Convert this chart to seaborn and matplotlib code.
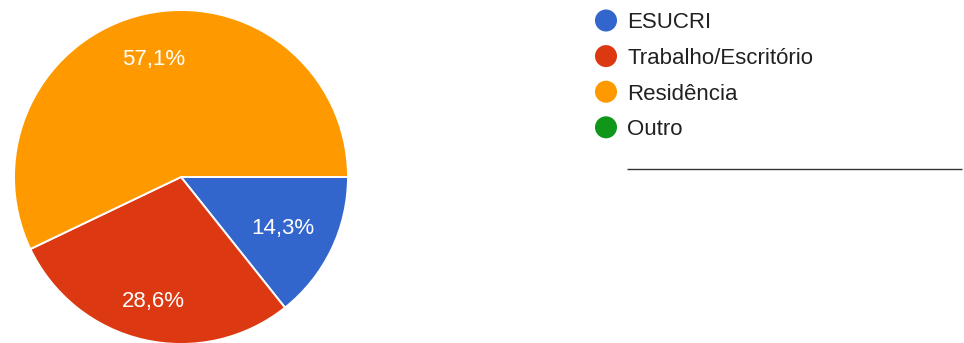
import numpy as np
import matplotlib
matplotlib.use("Agg")
import matplotlib.pyplot as plt
import seaborn as sns

# Survey answers: where the respondent usually accesses from
categories = ["ESUCRI", "Trabalho/Escritório", "Residência", "Outro"]
shares = [14.3, 28.6, 57.1, 0.0]
pct_labels = ["14,3%", "28,6%", "57,1%", ""]
colors = ["#3366CC", "#DC3912", "#FF9900", "#109618"]

sns.set_theme(style="white")
plt.rcParams["font.family"] = ["Liberation Sans", "DejaVu Sans"]

W, H, DPI = 964, 343, 100
FS = 16
fig = plt.figure(figsize=(W / DPI, H / DPI), dpi=DPI)
fig.patch.set_facecolor("white")

# Pie axes placed in pixel units: bounding square of the circle
left, top, size = 14, 10, 334
ax = fig.add_axes([left / W, (H - top - size) / H, size / W, size / H])
ax.set_facecolor("none")

nonzero = [i for i, v in enumerate(shares) if v > 0]
wedges, _ = ax.pie(
    [shares[i] for i in nonzero],
    colors=[colors[i] for i in nonzero],
    startangle=0,
    counterclock=False,
    radius=1.0,
    wedgeprops=dict(edgecolor="white", linewidth=1.4),
)
ax.set_xlim(-1, 1)
ax.set_ylim(-1, 1)
ax.set_aspect("equal")
ax.axis("off")

# Percent labels at the middle angle of each wedge
label_dist = {0: 0.68, 1: 0.75, 2: 0.74}
text_drop = 0.016  # small downward nudge so glyphs sit centred
for w, i in zip(wedges, nonzero):
    mid = np.deg2rad((w.theta1 + w.theta2) / 2)
    r = label_dist.get(i, 0.72)
    ax.text(r * np.cos(mid), r * np.sin(mid) - text_drop, pct_labels[i],
            color="white", fontsize=FS, ha="center", va="center")

# Legend drawn in a full-figure overlay with pixel coordinates
lax = fig.add_axes([0, 0, 1, 1])
lax.set_xlim(0, W)
lax.set_ylim(H, 0)
lax.axis("off")
row_y0, row_step = 20.5, 35.6
for k, (name, c) in enumerate(zip(categories, colors)):
    y = row_y0 + k * row_step
    lax.scatter([606], [y], s=22 ** 2 * 0.52, color=c, edgecolors="none")
    lax.text(627, y + 2.5, name, fontsize=FS, color="#212121",
             ha="left", va="center")
lax.plot([627, 962], [168.5, 168.5], color="#333333", lw=1.0,
         solid_capstyle="butt")

fig.savefig("out.png", dpi=DPI, facecolor="white")
